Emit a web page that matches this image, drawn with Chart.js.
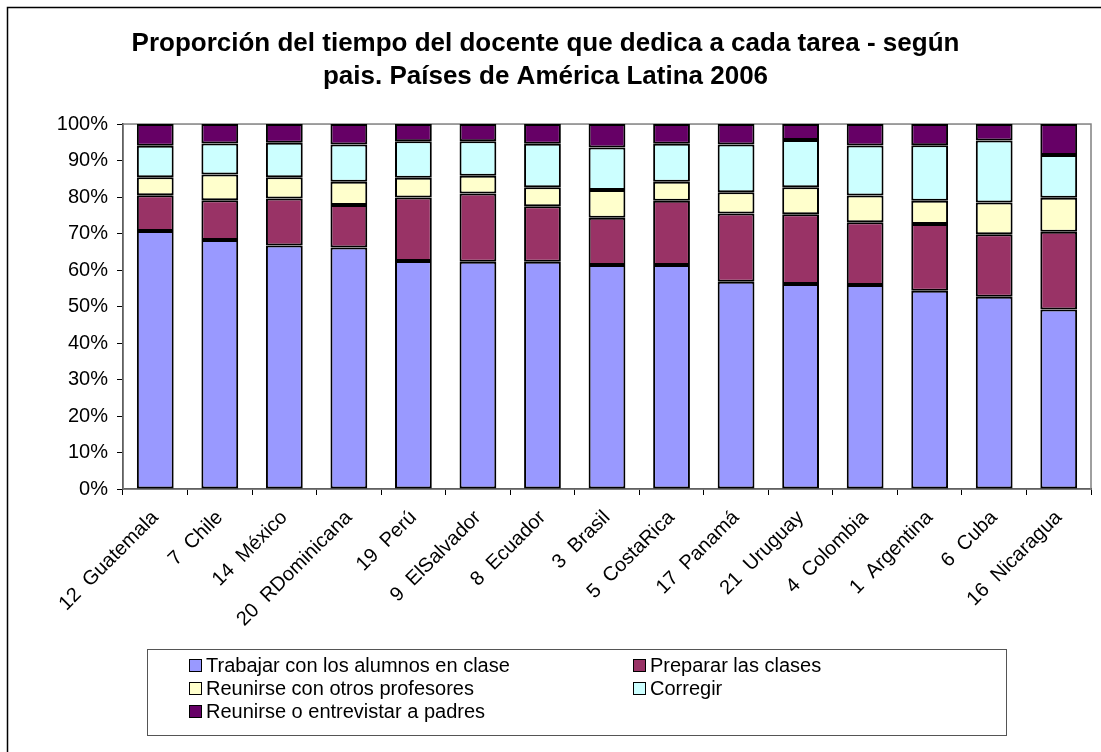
<!DOCTYPE html>
<html>
<head>
<meta charset="utf-8">
<script src="https://cdn.jsdelivr.net/npm/chart.js@4.4.1/dist/chart.umd.min.js"></script>
<style>
    html, body { margin: 0; padding: 0; background: #fff; }
    #wrap { position: relative; width: 1101px; height: 752px; }
    #legend {
        position: absolute; left: 147px; top: 649px; width: 860px; height: 87px;
        border: 1px solid #555; box-sizing: border-box;
        font: 20px "Liberation Sans", Arial, sans-serif; color: #000;
    }
    .item { position: absolute; display: flex; align-items: center; height: 23px; white-space: nowrap; }
    .swatch { width: 11px; height: 11px; border: 1.5px solid #000; margin-right: 4px; }
</style>
</head>
<body>
<div id="wrap">
    <canvas id="chart" width="1101" height="752"></canvas>
    <div id="legend"></div>
</div>
<script>
const categories = ['12  Guatemala', '7  Chile', '14  México', '20  RDominicana', '19  Perú', '9  ElSalvador',
    '8  Ecuador', '3  Brasil', '5  CostaRica', '17  Panamá', '21  Uruguay', '4  Colombia',
    '1  Argentina', '6  Cuba', '16  Nicaragua'];

const trabajar   = [70.7, 68.2, 66.7, 66.2, 62.5, 62.3, 62.3, 61.4, 61.4, 56.8, 56.2, 55.9, 54.3, 52.7, 49.2];
const preparar   = [9.8, 10.9, 12.9, 11.6, 17.4, 18.7, 15.2, 12.9, 17.6, 18.7, 19.1, 17.2, 18.3, 17.1, 21.3];
const reunirProf = [4.9, 7.1, 5.8, 6.4, 5.4, 4.8, 5.2, 7.6, 5.2, 5.8, 7.4, 7.3, 6.4, 8.7, 9.3];
const corregir   = [8.65, 8.5, 9.5, 10.2, 10.0, 9.5, 11.9, 11.7, 10.4, 13.1, 12.9, 13.7, 15.2, 17.0, 11.7];
const padres     = [5.95, 5.3, 5.1, 5.6, 4.7, 4.7, 5.4, 6.4, 5.4, 5.6, 4.4, 5.9, 5.8, 4.5, 8.5];

const seriesNames = ['Trabajar con los alumnos en clase', 'Preparar las clases',
    'Reunirse con otros profesores', 'Corregir', 'Reunirse o entrevistar a padres'];
const seriesData = [trabajar, preparar, reunirProf, corregir, padres];
const seriesColors = ['#9999FF', '#993366', '#FFFFCC', '#CCFFFF', '#660066'];

const yTicks = [0, 10, 20, 30, 40, 50, 60, 70, 80, 90, 100];

Chart.defaults.font.family = '"Liberation Sans", Arial, sans-serif';
Chart.defaults.color = '#000';

// frame of the whole chart and grey border of the plot area
const framePlugin = {
    id: 'frame',
    beforeDatasetsDraw(chart) {
        const { ctx, chartArea: a } = chart;
        ctx.save();
        ctx.strokeStyle = '#808080';
        ctx.lineWidth = 1.5;
        ctx.strokeRect(a.left, a.top, a.right - a.left, a.bottom - a.top);
        ctx.restore();
    },
    afterDraw(chart) {
        const ctx = chart.ctx;
        ctx.save();
        ctx.strokeStyle = '#000';
        ctx.lineWidth = 1.5;
        ctx.beginPath();
        ctx.moveTo(7.5, 752);
        ctx.lineTo(7.5, 7.5);
        ctx.lineTo(1101, 7.5);
        ctx.stroke();
        ctx.restore();
    }
};

new Chart(document.getElementById('chart'), {
    type: 'bar',
    data: {
        labels: categories,
        datasets: seriesData.map((d, i) => ({
            label: seriesNames[i],
            data: d,
            backgroundColor: seriesColors[i],
            borderColor: '#000',
            borderWidth: 2,
            borderSkipped: false,
            categoryPercentage: 1,
            barPercentage: 0.57
        }))
    },
    options: {
        responsive: false,
        animation: false,
        layout: { padding: { left: 0, right: 10, top: 0, bottom: 0 } },
        plugins: {
            legend: { display: false },
            tooltip: { enabled: false },
            title: {
                display: true,
                text: ['Proporción del tiempo del docente que dedica a cada tarea - según',
                       'pais. Países de América Latina 2006'],
                font: { size: 26, weight: 'bold', lineHeight: 1.27 },
                color: '#000',
                padding: { top: 27, bottom: 31 }
            }
        },
        scales: {
            x: {
                stacked: true,
                grid: { display: true, drawOnChartArea: false, drawTicks: true, tickLength: 6, color: '#000', offset: true },
                border: { color: '#000', width: 1.5 },
                ticks: { font: { size: 20 }, maxRotation: 45, minRotation: 45, padding: 11, autoSkip: false },
                afterFit(scale) { scale.height = 263; }
            },
            y: {
                stacked: true,
                min: 0,
                max: 100,
                afterBuildTicks(scale) { scale.ticks = yTicks.map(v => ({ value: v })); },
                grid: { display: true, drawOnChartArea: false, drawTicks: true, tickLength: 6, color: '#000' },
                border: { color: '#000', width: 1.5 },
                ticks: { font: { size: 20 }, padding: 9, callback: v => v + '%' },
                afterFit(scale) { scale.width = 123; }
            }
        }
    },
    plugins: [framePlugin]
});

// legend built from the same series arrays
const legend = document.getElementById('legend');
seriesNames.forEach((name, i) => {
    const item = document.createElement('div');
    item.className = 'item';
    item.style.left = (i % 2 === 0 ? 41 : 485) + 'px';
    item.style.top = (4 + Math.floor(i / 2) * 23) + 'px';
    const sw = document.createElement('span');
    sw.className = 'swatch';
    sw.style.background = seriesColors[i];
    const tx = document.createElement('span');
    tx.textContent = name;
    item.appendChild(sw);
    item.appendChild(tx);
    legend.appendChild(item);
});
</script>
</body>
</html>
